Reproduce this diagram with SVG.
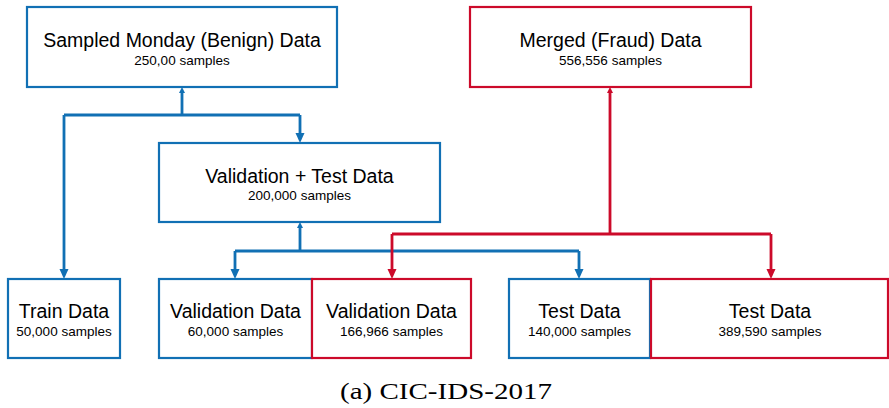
<svg xmlns="http://www.w3.org/2000/svg" width="889" height="408" viewBox="0 0 889 408">
<style>
.bg{fill:#ffffff}
.box{fill:#ffffff;stroke-width:2.2}
.b{stroke:#1170B4}
.r{stroke:#CC0A2A}
.t{font-family:"Liberation Sans",Arial,sans-serif;font-size:19.5px;fill:#000;text-anchor:middle}
.s{font-family:"Liberation Sans",Arial,sans-serif;font-size:13.5px;fill:#000;text-anchor:middle}
.cap{font-family:"Liberation Serif","Times New Roman",serif;font-size:24px;fill:#000;text-anchor:middle}
.cb{fill:none;stroke:#1170B4;stroke-width:2.8}
.cr{fill:none;stroke:#CC0A2A;stroke-width:2.8}
</style>
<defs>
<marker id="db" viewBox="0 0 10 10" refX="2" refY="5" markerWidth="10" markerHeight="10" markerUnits="userSpaceOnUse" orient="auto"><path d="M0,0.5 L10,5 L0,9.5 z" fill="#1170B4"/></marker>
<marker id="dr" viewBox="0 0 10 10" refX="2" refY="5" markerWidth="10" markerHeight="10" markerUnits="userSpaceOnUse" orient="auto"><path d="M0,0.5 L10,5 L0,9.5 z" fill="#CC0A2A"/></marker>
<marker id="ub" viewBox="0 0 6 6" refX="1" refY="3" markerWidth="6" markerHeight="6" markerUnits="userSpaceOnUse" orient="auto"><path d="M0,0 L6,3 L0,6 z" fill="#1170B4"/></marker>
<marker id="ur" viewBox="0 0 6 6" refX="1" refY="3" markerWidth="6" markerHeight="6" markerUnits="userSpaceOnUse" orient="auto"><path d="M0,0 L6,3 L0,6 z" fill="#CC0A2A"/></marker>
</defs>
<rect class="bg" x="0" y="0" width="889" height="408"/>
<g id="connectors">
<path class="cb" d="M182,115 V92" marker-end="url(#ub)"/>
<path class="cb" d="M64,115 H300"/>
<path class="cb" d="M64,115 V271" marker-end="url(#db)"/>
<path class="cb" d="M300,115 V135" marker-end="url(#db)"/>
<path class="cb" d="M300,251 V227" marker-end="url(#ub)"/>
<path class="cb" d="M235,251 H579"/>
<path class="cb" d="M235,251 V271" marker-end="url(#db)"/>
<path class="cb" d="M579,251 V271" marker-end="url(#db)"/>
<path class="cr" d="M610,234 V92" marker-end="url(#ur)"/>
<path class="cr" d="M392,234 H771"/>
<path class="cr" d="M392,234 V271" marker-end="url(#dr)"/>
<path class="cr" d="M771,234 V271" marker-end="url(#dr)"/>
</g>
<g id="sampled-monday">
<rect class="box b" x="27" y="7" width="310" height="80"/>
<text class="t" x="182" y="47">Sampled Monday (Benign) Data</text>
<text class="s" x="182" y="64.5">250,00 samples</text>
</g>
<g id="merged-fraud">
<rect class="box r" x="470" y="7" width="281" height="80"/>
<text class="t" x="610.5" y="47">Merged (Fraud) Data</text>
<text class="s" x="610.5" y="64.5">556,556 samples</text>
</g>
<g id="validation-test">
<rect class="box b" x="159" y="143" width="281" height="79"/>
<text class="t" x="299.5" y="182.5">Validation + Test Data</text>
<text class="s" x="299.5" y="200">200,000 samples</text>
</g>
<g id="train">
<rect class="box b" x="8" y="279" width="112" height="79"/>
<text class="t" x="64" y="317.5">Train Data</text>
<text class="s" x="64" y="335.5">50,000 samples</text>
</g>
<g id="validation-benign">
<rect class="box b" x="159" y="279" width="153" height="79"/>
<text class="t" x="235.5" y="317.5">Validation Data</text>
<text class="s" x="235.5" y="335.5">60,000 samples</text>
</g>
<g id="validation-fraud">
<rect class="box r" x="312" y="279" width="159" height="79"/>
<text class="t" x="391.5" y="317.5">Validation Data</text>
<text class="s" x="391.5" y="335.5">166,966 samples</text>
</g>
<g id="test-benign">
<rect class="box b" x="509" y="279" width="141" height="79"/>
<text class="t" x="579.5" y="317.5">Test Data</text>
<text class="s" x="579.5" y="335.5">140,000 samples</text>
</g>
<g id="test-fraud">
<rect class="box r" x="651" y="279" width="237" height="79"/>
<text class="t" x="770" y="317.5">Test Data</text>
<text class="s" x="770" y="335.5">389,590 samples</text>
</g>
<text class="cap" x="446" y="399" textLength="212" lengthAdjust="spacingAndGlyphs">(a) CIC-IDS-2017</text>
</svg>
